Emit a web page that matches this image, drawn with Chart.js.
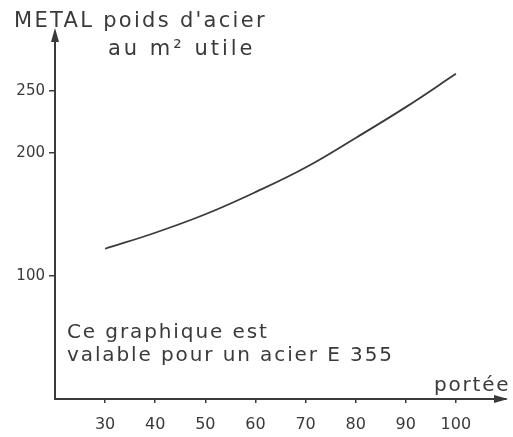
<!DOCTYPE html>
<html><head><meta charset="utf-8">
<script src="https://cdn.jsdelivr.net/npm/chart.js@4"></script>
<style>html,body{margin:0;padding:0;background:#fff}#c{display:block}</style>
</head><body>
<canvas id="c" width="513" height="437"></canvas>
<script>
const portee = [30, 40, 50, 60, 70, 80, 90, 100];
const poids = [122, 135, 150, 168, 188, 212, 237, 264];
const xTicks = [30, 40, 50, 60, 70, 80, 90, 100];
const yTicks = [100, 200, 250];
const titleLines = ["METAL poids d'acier", "au m² utile"];
const noteLines = ["Ce graphique est", "valable pour un acier E 355"];
const xAxisLabel = "portée";

const INK = '#3a3a3a';
const FONT = '"DejaVu Sans", sans-serif';

const decor = {
  id: 'decor',
  afterDraw(chart) {
    const ctx = chart.ctx, a = chart.chartArea;
    ctx.save();
    ctx.fillStyle = INK;
    // arrow heads
    ctx.beginPath();
    ctx.moveTo(a.left, a.top - 4); ctx.lineTo(a.left - 4, a.top + 10); ctx.lineTo(a.left + 4, a.top + 10); ctx.closePath(); ctx.fill();
    ctx.beginPath();
    ctx.moveTo(a.right + 2, a.bottom); ctx.lineTo(a.right - 12, a.bottom - 4); ctx.lineTo(a.right - 12, a.bottom + 4); ctx.closePath(); ctx.fill();
    ctx.textBaseline = 'middle';
    ctx.textAlign = 'left';
    ctx.font = '21px ' + FONT;
    ctx.letterSpacing = '2.3px';
    ctx.fillText(titleLines[0], 14, 22);
    ctx.letterSpacing = '3px';
    ctx.fillText(titleLines[1], 108, 50);
    ctx.font = '20px ' + FONT;
    ctx.letterSpacing = '1.9px';
    ctx.fillText(noteLines[0], 67, 333);
    ctx.fillText(noteLines[1], 67, 356);
    ctx.letterSpacing = '1.8px';
    ctx.fillText(xAxisLabel, 434, 386);
    ctx.restore();
  }
};

new Chart(document.getElementById('c'), {
  type: 'line',
  data: {
    datasets: [{
      data: portee.map((x, i) => ({x: x, y: poids[i]})),
      borderColor: INK,
      borderWidth: 1.8,
      pointRadius: 0,
      tension: 0.4,
      fill: false
    }]
  },
  options: {
    responsive: false,
    animation: false,
    layout: {padding: {top: 32, right: 7, left: 0, bottom: 0}},
    plugins: {legend: {display: false}, tooltip: {enabled: false}},
    scales: {
      x: {
        type: 'linear', min: 20, max: 110,
        afterBuildTicks: s => { s.ticks = xTicks.map(v => ({value: v})); },
        afterFit: s => { s.height = 38; },
        border: {display: true, color: INK, width: 2},
        grid: {display: true, drawOnChartArea: false, drawTicks: true, tickLength: 4, color: INK, lineWidth: 1.5},
        ticks: {color: INK, font: {family: FONT, size: 16}, padding: 12, maxRotation: 0}
      },
      y: {
        type: 'linear', min: 0, max: 298,
        afterBuildTicks: s => { s.ticks = yTicks.map(v => ({value: v})); },
        afterFit: s => { s.width = 55; },
        border: {display: true, color: INK, width: 2},
        grid: {display: true, drawOnChartArea: false, drawTicks: true, tickLength: 6, color: INK, lineWidth: 1.5},
        ticks: {color: INK, font: {family: FONT, size: 15}, padding: 4}
      }
    }
  },
  plugins: [decor]
});
</script>
</body></html>
